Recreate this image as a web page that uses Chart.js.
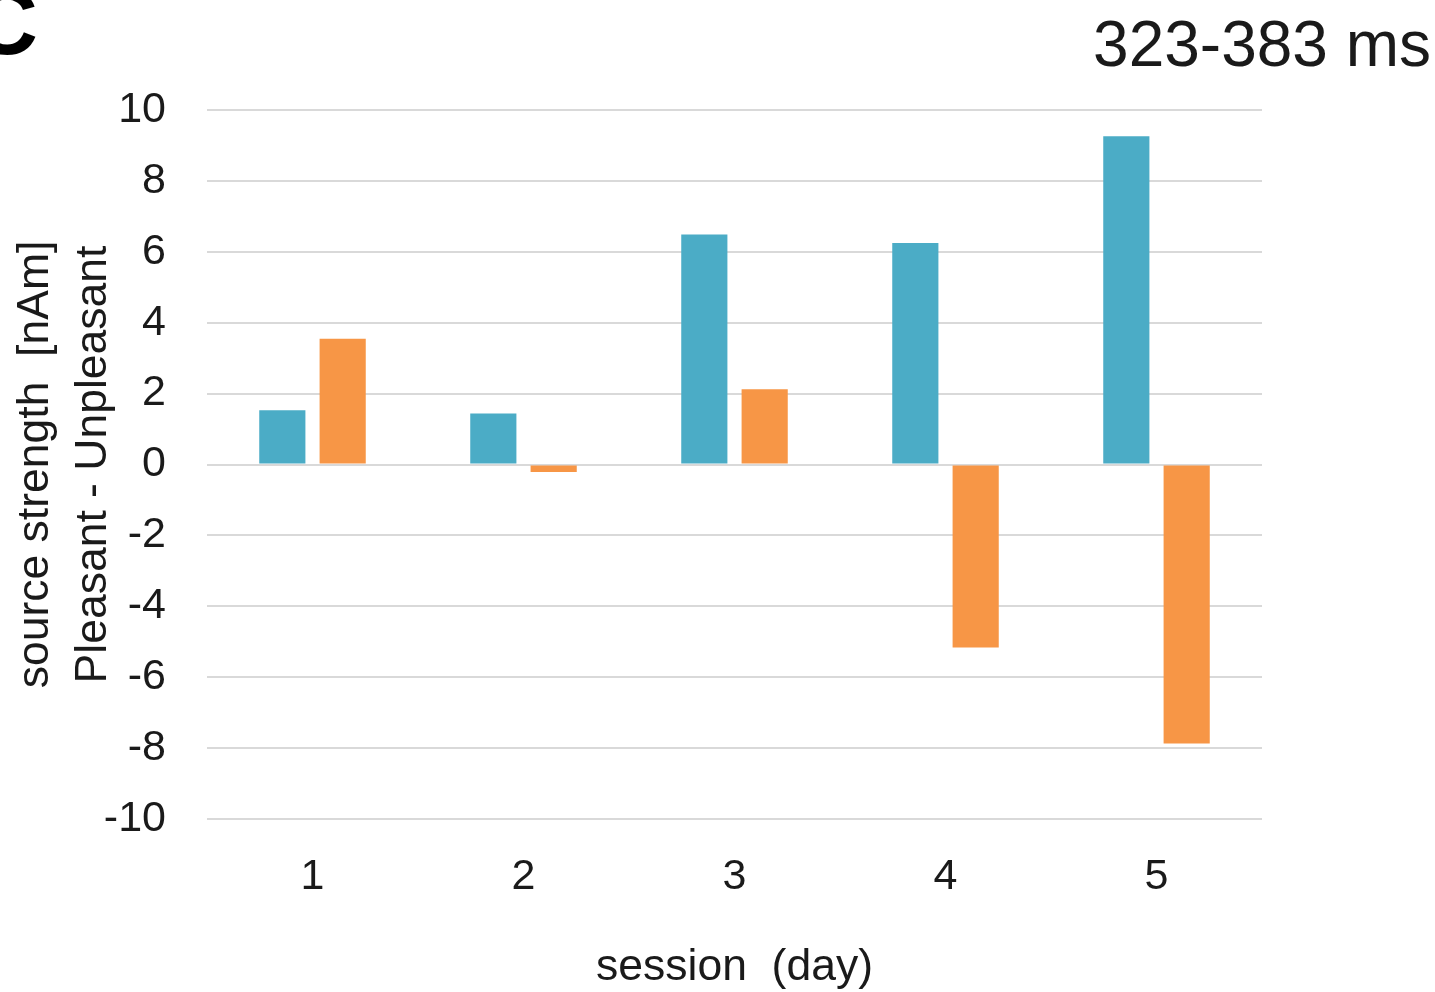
<!DOCTYPE html>
<html>
<head>
<meta charset="utf-8">
<title>323-383 ms</title>
<script src="https://cdn.jsdelivr.net/npm/chart.js@4"></script>
<style>
  html, body { margin: 0; padding: 0; background: #ffffff; }
  #wrap { position: relative; width: 1435px; height: 992px; }
</style>
</head>
<body>
<div id="wrap"><canvas id="chart" width="1435" height="992"></canvas></div>
<script>
// Session labels (days) and the two difference series (nAm)
const sessions = ['1', '2', '3', '4', '5'];
const seriesBlue = [1.53, 1.44, 6.49, 6.25, 9.26];
const seriesOrange = [3.55, -0.21, 2.12, -5.16, -7.87];

const yMin = -10;
const yMax = 10;
const yStep = 2;

const panelLetter = 'C';
const windowLabel = '323-383 ms';
const yTitleLines = ['source strength  [nAm]', 'Pleasant - Unpleasant'];
const xTitle = 'session  (day)';

const FONT = "'Liberation Sans', Arial, sans-serif";
const INK = '#1a1a1a';

// Panel letter and time-window caption drawn on the canvas
const captionPlugin = {
  id: 'captions',
  afterDraw(chart) {
    const ctx = chart.ctx;
    ctx.save();
    ctx.fillStyle = '#000000';
    ctx.font = 'bold 92px ' + FONT;
    ctx.textAlign = 'right';
    ctx.textBaseline = 'alphabetic';
    ctx.fillText(panelLetter, 38, 54);

    ctx.fillStyle = INK;
    ctx.font = '64px ' + FONT;
    ctx.textAlign = 'right';
    ctx.fillText(windowLabel, 1431, 66);
    ctx.restore();
  }
};

new Chart(document.getElementById('chart'), {
  type: 'bar',
  data: {
    labels: sessions,
    datasets: [
      {
        label: 'blue',
        data: seriesBlue,
        backgroundColor: '#4BACC6',
        borderWidth: 0,
        categoryPercentage: 0.572,
        barPercentage: 0.765
      },
      {
        label: 'orange',
        data: seriesOrange,
        backgroundColor: '#F79646',
        borderWidth: 0,
        categoryPercentage: 0.572,
        barPercentage: 0.765
      }
    ]
  },
  options: {
    responsive: false,
    animation: false,
    devicePixelRatio: 1,
    layout: { padding: { top: 110, right: 173, left: 0, bottom: 0 } },
    plugins: {
      legend: { display: false },
      tooltip: { enabled: false },
      title: { display: false }
    },
    scales: {
      x: {
        grid: { display: false, drawTicks: false },
        border: { display: false },
        ticks: {
          color: INK,
          font: { family: FONT, size: 43 },
          padding: 32,
          maxRotation: 0
        },
        title: {
          display: true,
          text: xTitle,
          color: INK,
          font: { family: FONT, size: 44.5, lineHeight: 1 },
          padding: { top: 0, bottom: 2 }
        },
        afterFit(scale) { scale.height = 173; }
      },
      y: {
        min: yMin,
        max: yMax,
        grid: {
          color: '#d9d9d9',
          lineWidth: 2,
          drawTicks: false
        },
        border: { display: false },
        ticks: {
          stepSize: yStep,
          color: INK,
          font: { family: FONT, size: 43 },
          padding: 41
        },
        title: {
          display: true,
          text: yTitleLines,
          color: INK,
          font: { family: FONT, size: 44.5, lineHeight: 1.3 },
          padding: { top: 7, bottom: 0 }
        },
        afterFit(scale) { scale.width = 207; }
      }
    }
  },
  plugins: [captionPlugin]
});
</script>
</body>
</html>
